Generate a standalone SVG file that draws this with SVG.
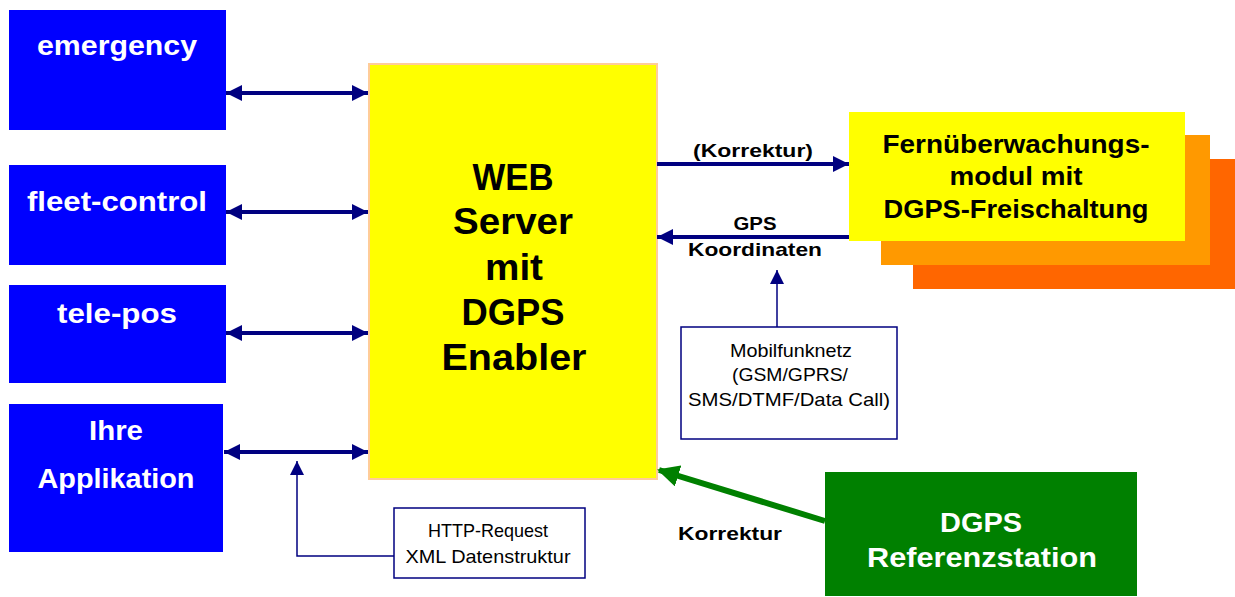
<svg xmlns="http://www.w3.org/2000/svg" width="1235" height="597" viewBox="0 0 1235 597">
<style>
.b{font-family:"Liberation Sans",Arial,sans-serif;font-weight:bold;text-anchor:middle}
.w{fill:#ffffff}
.k{fill:#000000}
.n{font-family:"Liberation Sans",Arial,sans-serif;font-weight:normal;text-anchor:middle;fill:#000000;font-size:19px}
.blue{fill:#0000ff}
.nav{stroke:#000080;fill:none}
</style>
<defs>
<marker id="ah" markerUnits="userSpaceOnUse" markerWidth="16" markerHeight="16" refX="16" refY="8" orient="auto-start-reverse">
<path d="M0,0 L16,8 L0,16 z" fill="#000080"/>
</marker>
<marker id="ahs" markerUnits="userSpaceOnUse" markerWidth="14" markerHeight="14" refX="14" refY="7" orient="auto">
<path d="M0,0 L14,7 L0,14 z" fill="#000080"/>
</marker>
<marker id="ahg" markerUnits="userSpaceOnUse" markerWidth="22" markerHeight="22" refX="20" refY="11" orient="auto">
<path d="M0,0 L22,11 L0,22 z" fill="#008000"/>
</marker>
</defs>

<g id="emergency"><rect class="blue" x="9" y="10" width="217" height="120"/><text class="b w" x="117" y="55" font-size="28" textLength="160" lengthAdjust="spacingAndGlyphs">emergency</text></g>
<g id="fleet-control"><rect class="blue" x="9" y="165" width="217" height="100"/><text class="b w" x="117" y="211" font-size="28" textLength="180" lengthAdjust="spacingAndGlyphs">fleet-control</text></g>
<g id="tele-pos"><rect class="blue" x="9" y="285" width="217" height="98"/><text class="b w" x="117" y="323" font-size="28" textLength="120" lengthAdjust="spacingAndGlyphs">tele-pos</text></g>
<g id="ihre-applikation"><rect class="blue" x="9" y="404" width="214" height="148"/><text class="b w" x="116" y="440" font-size="28" textLength="54" lengthAdjust="spacingAndGlyphs">Ihre</text><text class="b w" x="116" y="488" font-size="28" textLength="157" lengthAdjust="spacingAndGlyphs">Applikation</text></g>

<g id="web-server"><rect x="369" y="64" width="288" height="415" fill="#ffff00" stroke="#ffcc99" stroke-width="2"/>
<text class="b k" x="513" y="190" font-size="37" textLength="81" lengthAdjust="spacingAndGlyphs">WEB</text>
<text class="b k" x="513" y="234" font-size="37" textLength="120" lengthAdjust="spacingAndGlyphs">Server</text>
<text class="b k" x="514" y="280" font-size="37" textLength="58" lengthAdjust="spacingAndGlyphs">mit</text>
<text class="b k" x="513" y="325" font-size="37" textLength="103" lengthAdjust="spacingAndGlyphs">DGPS</text>
<text class="b k" x="514" y="370" font-size="37" textLength="145" lengthAdjust="spacingAndGlyphs">Enabler</text></g>

<g id="fernueberwachung">
<rect x="913" y="159" width="322" height="130" fill="#ff6600"/>
<rect x="881" y="135" width="329" height="130" fill="#ff9900"/>
<rect x="849" y="112" width="336" height="129" fill="#ffff00"/>
<text class="b k" x="1016" y="153" font-size="25" textLength="267" lengthAdjust="spacingAndGlyphs">Fernüberwachungs-</text>
<text class="b k" x="1016" y="185" font-size="25" textLength="133" lengthAdjust="spacingAndGlyphs">modul mit</text>
<text class="b k" x="1016" y="218" font-size="25" textLength="265" lengthAdjust="spacingAndGlyphs">DGPS-Freischaltung</text></g>

<g id="mobilfunknetz"><rect x="681" y="327" width="216" height="112" fill="#ffffff" stroke="#000080" stroke-width="1.5"/>
<text class="n" x="791" y="357" textLength="122" lengthAdjust="spacingAndGlyphs">Mobilfunknetz</text>
<text class="n" x="790" y="381" textLength="116" lengthAdjust="spacingAndGlyphs">(GSM/GPRS/</text>
<text class="n" x="789" y="406" textLength="202" lengthAdjust="spacingAndGlyphs">SMS/DTMF/Data Call)</text></g>

<g id="http-request"><rect x="394" y="508" width="191" height="70" fill="#ffffff" stroke="#000080" stroke-width="1.5"/>
<text class="n" x="488" y="537" textLength="120" lengthAdjust="spacingAndGlyphs">HTTP-Request</text>
<text class="n" x="488" y="563" textLength="165" lengthAdjust="spacingAndGlyphs">XML Datenstruktur</text></g>

<g id="dgps-referenzstation"><rect x="825" y="472" width="312" height="124" fill="#008000"/>
<text class="b w" x="981" y="532" font-size="28" textLength="82" lengthAdjust="spacingAndGlyphs">DGPS</text>
<text class="b w" x="982" y="567" font-size="28" textLength="230" lengthAdjust="spacingAndGlyphs">Referenzstation</text></g>

<g id="connectors">
<line class="nav" x1="226" y1="93" x2="368" y2="93" stroke-width="4" marker-start="url(#ah)" marker-end="url(#ah)"/>
<line class="nav" x1="226" y1="212" x2="368" y2="212" stroke-width="4" marker-start="url(#ah)" marker-end="url(#ah)"/>
<line class="nav" x1="226" y1="333" x2="368" y2="333" stroke-width="4" marker-start="url(#ah)" marker-end="url(#ah)"/>
<line class="nav" x1="224" y1="452" x2="368" y2="452" stroke-width="4" marker-start="url(#ah)" marker-end="url(#ah)"/>
<polyline class="nav" points="394,556 297,556 297,461" stroke-width="1.5" marker-end="url(#ahs)"/>
<line class="nav" x1="777" y1="327" x2="777" y2="270" stroke-width="1.5" marker-end="url(#ahs)"/>
<line class="nav" x1="657" y1="164" x2="849" y2="164" stroke-width="4" marker-end="url(#ah)"/>
<line class="nav" x1="849" y1="237" x2="657" y2="237" stroke-width="4" marker-end="url(#ah)"/>
<line x1="825" y1="521" x2="659" y2="470" stroke="#008000" stroke-width="6" marker-end="url(#ahg)"/>
<text class="b k" x="753" y="157" font-size="19" textLength="120" lengthAdjust="spacingAndGlyphs">(Korrektur)</text>
<text class="b k" x="755" y="230" font-size="19" textLength="43" lengthAdjust="spacingAndGlyphs">GPS</text>
<text class="b k" x="755" y="256" font-size="19" textLength="134" lengthAdjust="spacingAndGlyphs">Koordinaten</text>
<text class="b k" x="730" y="540" font-size="19" textLength="104" lengthAdjust="spacingAndGlyphs">Korrektur</text>
</g>
</svg>
